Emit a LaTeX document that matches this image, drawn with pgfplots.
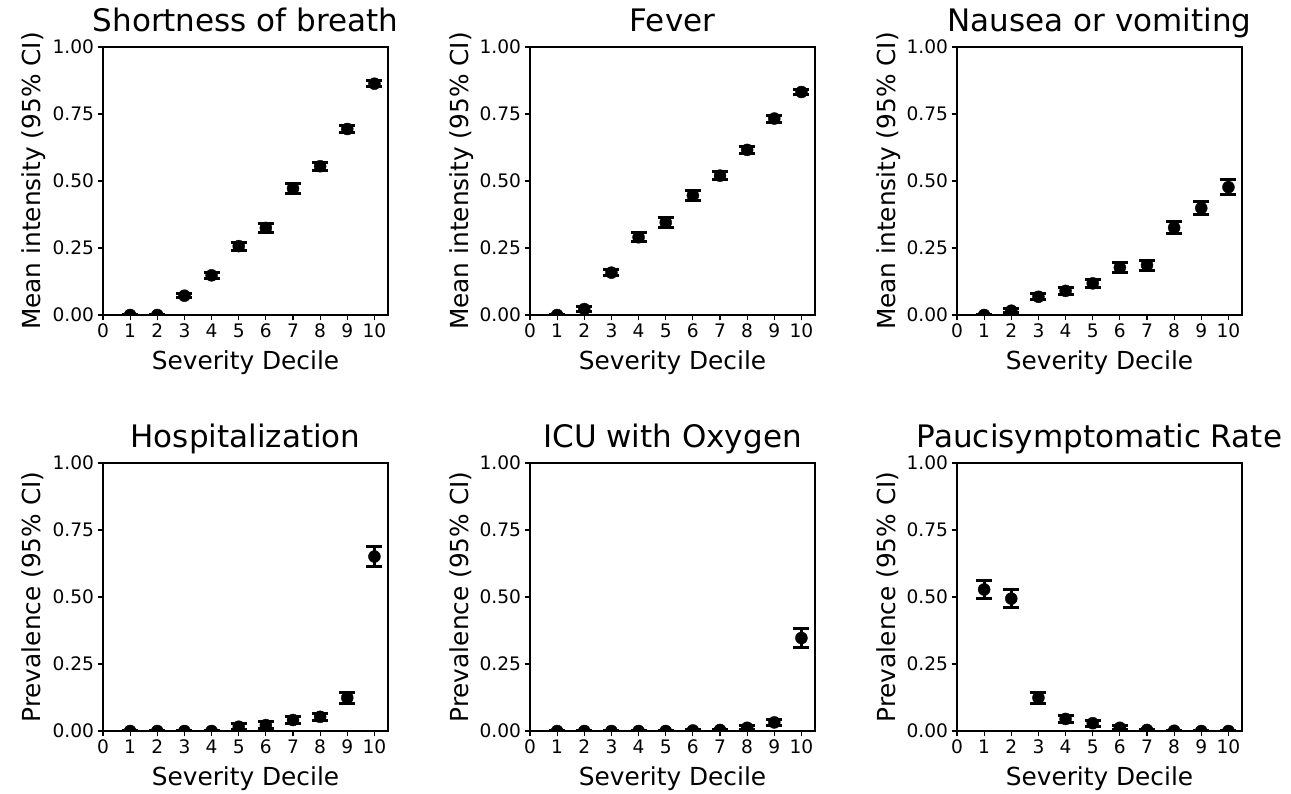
\documentclass[border=0pt]{standalone}
\usepackage{fontspec}
\setmainfont{DejaVu Sans}
\usepackage{pgfplots}
\pgfplotsset{compat=1.18}
\pgfplotsset{
 panel/.style={
  scale only axis, width=285pt, height=268pt,
  xmin=0, xmax=10.5, ymin=0, ymax=1,
  xtick={0,1,...,10}, ytick={0,0.25,0.5,0.75,1},
  tick align=outside, xtick pos=bottom, ytick pos=left,
  major tick length=5.4pt,
  tick style={black, line width=1.2pt},
  axis line style={line width=1.2pt, black},
  tick label style={font=\fontsize{18.6}{22}\selectfont},
  label style={font=\fontsize{24.8}{30}\selectfont},
  title style={font=\fontsize{31}{37}\selectfont, at={(0.5,1)}, anchor=base, yshift=9.5pt},
  xlabel style={at={(axis description cs:0.5,0)}, anchor=base, yshift=-55pt},
  ylabel style={at={([xshift=-62pt]axis description cs:0,0.5)}, anchor=base},
  /pgf/number format/assume math mode=true,
  yticklabel style={/pgf/number format/fixed, /pgf/number format/fixed zerofill, /pgf/number format/precision=2},
  clip marker paths=true,
  xlabel={Severity Decile},
 },
 pts/.style={only marks, mark=*, mark size=6pt, black,
   error bars/.cd, y dir=both, y explicit,
   error bar style={line width=3pt, black},
   error mark options={rotate=90, line width=3pt, black, mark size=8pt}},
}
\begin{document}
\begin{tikzpicture}
\useasboundingbox (0,0) rectangle (1291pt,794pt);
% Row 1
\begin{axis}[panel, at={(103pt,479pt)}, anchor=south west, title={Shortness of breath}, ylabel={Mean intensity (95\% CI)}]
\addplot[pts] table[x=x, y=y, y error=e] {
x y e
1 0.000 0.000
2 0.000 0.000
3 0.072 0.008
4 0.148 0.011
5 0.257 0.015
6 0.325 0.016
7 0.472 0.017
8 0.555 0.014
9 0.694 0.014
10 0.863 0.011
};
\end{axis}
\begin{axis}[panel, at={(530pt,479pt)}, anchor=south west, title={Fever}, ylabel={Mean intensity (95\% CI)}]
\addplot[pts] table[x=x, y=y, y error=e] {
x y e
1 0.000 0.000
2 0.022 0.008
3 0.158 0.011
4 0.290 0.016
5 0.345 0.017
6 0.446 0.019
7 0.520 0.016
8 0.616 0.014
9 0.733 0.013
10 0.832 0.011
};
\end{axis}
\begin{axis}[panel, at={(957pt,479pt)}, anchor=south west, title={Nausea or vomiting}, ylabel={Mean intensity (95\% CI)}]
\addplot[pts] table[x=x, y=y, y error=e] {
x y e
1 0.000 0.000
2 0.016 0.008
3 0.068 0.012
4 0.090 0.014
5 0.118 0.016
6 0.177 0.019
7 0.186 0.019
8 0.326 0.021
9 0.399 0.025
10 0.477 0.028
};
\end{axis}
% Row 2
\begin{axis}[panel, at={(103pt,63pt)}, anchor=south west, title={Hospitalization}, ylabel={Prevalence (95\% CI)}]
\addplot[pts] table[x=x, y=y, y error=e] {
x y e
1 0.000 0.000
2 0.000 0.000
3 0.000 0.000
4 0.000 0.000
5 0.016 0.011
6 0.022 0.013
7 0.041 0.014
8 0.053 0.014
9 0.124 0.021
10 0.651 0.036
};
\end{axis}
\begin{axis}[panel, at={(530pt,63pt)}, anchor=south west, title={ICU with Oxygen}, ylabel={Prevalence (95\% CI)}]
\addplot[pts] table[x=x, y=y, y error=e] {
x y e
1 0.000 0.000
2 0.000 0.000
3 0.000 0.000
4 0.000 0.000
5 0.000 0.000
6 0.002 0.002
7 0.004 0.003
8 0.012 0.008
9 0.032 0.011
10 0.347 0.034
};
\end{axis}
\begin{axis}[panel, at={(957pt,63pt)}, anchor=south west, title={Paucisymptomatic Rate}, ylabel={Prevalence (95\% CI)}]
\addplot[pts] table[x=x, y=y, y error=e] {
x y e
1 0.528 0.035
2 0.494 0.035
3 0.124 0.021
4 0.045 0.014
5 0.029 0.011
6 0.012 0.008
7 0.004 0.003
8 0.001 0.001
9 0.000 0.000
10 0.000 0.000
};
\end{axis}
\end{tikzpicture}
\end{document}
